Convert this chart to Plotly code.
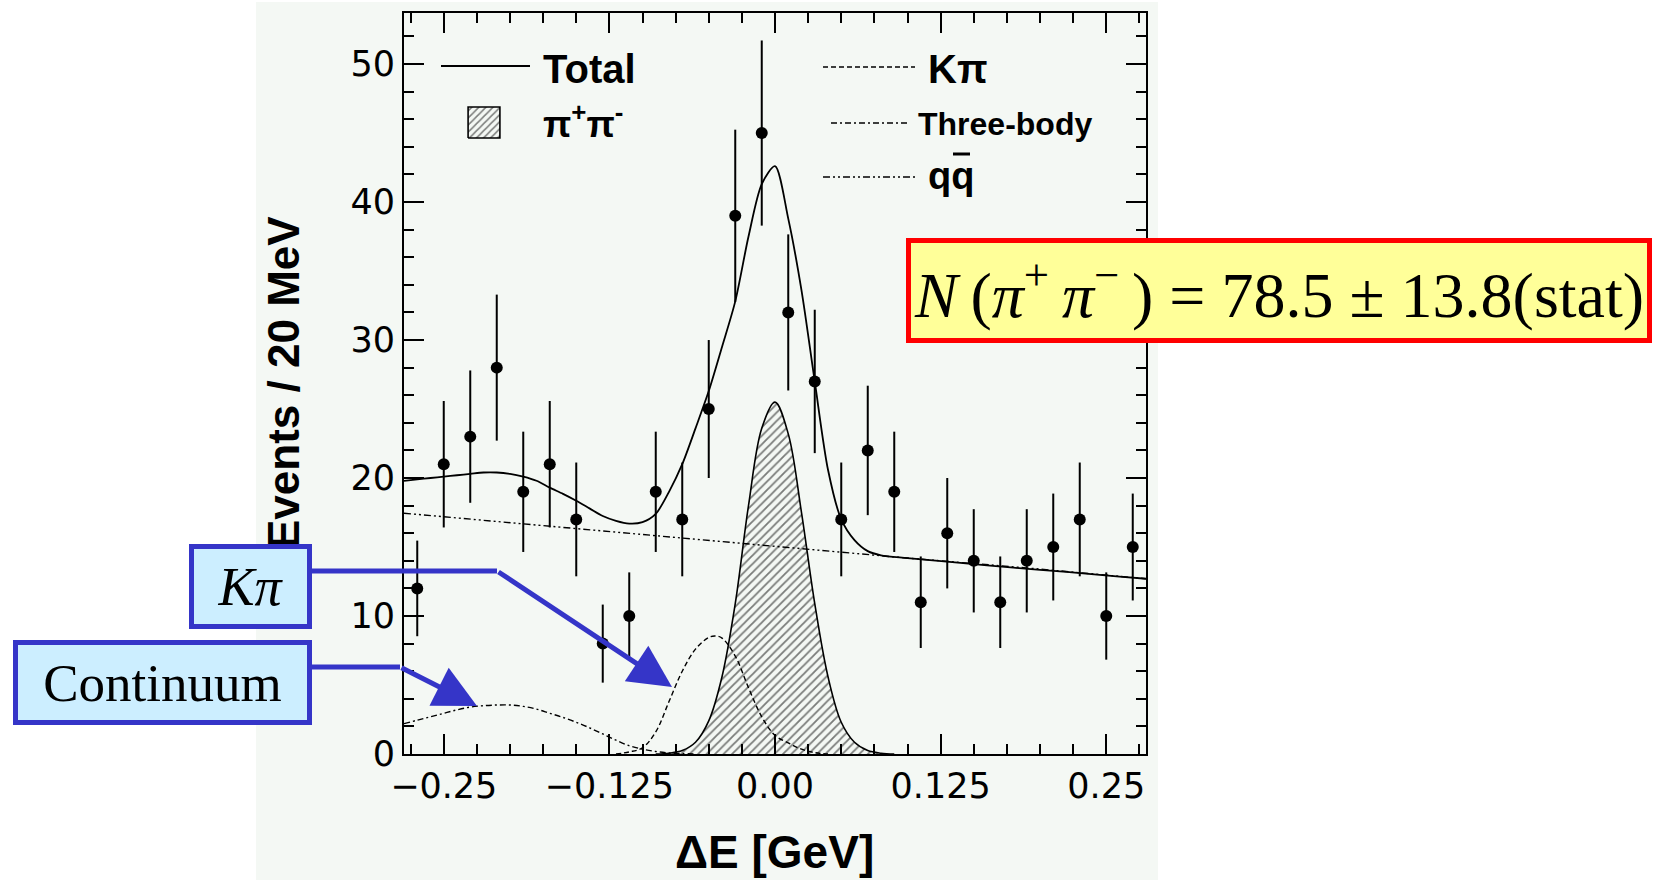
import math
import plotly.graph_objects as go

# ---- measured spectrum: events per 20 MeV bin of Delta E ----
bin_centers = [-0.27, -0.25, -0.23, -0.21, -0.19, -0.17, -0.15, -0.13, -0.11, -0.09,
               -0.07, -0.05, -0.03, -0.01, 0.01, 0.03, 0.05, 0.07, 0.09, 0.11,
               0.13, 0.15, 0.17, 0.19, 0.21, 0.23, 0.25, 0.27]
counts = [12, 21, 23, 28, 19, 21, 17, 8, 10, 19,
          17, 25, 39, 45, 32, 27, 17, 22, 19, 11,
          16, 14, 11, 14, 15, 17, 10, 15]
count_errors = [math.sqrt(n) for n in counts]

# ---- fit components (sampled along Delta E) ----
total_x = [-0.28, -0.27, -0.26, -0.25, -0.24, -0.23, -0.22, -0.21, -0.20, -0.19,
           -0.18, -0.17, -0.16, -0.15, -0.14, -0.13, -0.12, -0.11, -0.10, -0.09,
           -0.08, -0.07, -0.06, -0.05, -0.04, -0.03, -0.02, -0.01, 0.00, 0.01,
           0.02, 0.03, 0.04, 0.05, 0.06, 0.07, 0.08, 0.10, 0.14, 0.18, 0.22, 0.26, 0.28]
total_y = [19.8, 19.9, 20.0, 20.1, 20.2, 20.3, 20.4, 20.4, 20.3, 20.1,
           19.8, 19.3, 18.85, 18.35, 17.8, 17.25, 16.9, 16.7, 16.8, 17.4,
           19.0, 21.0, 23.6, 26.3, 29.5, 32.8, 37.5, 41.3, 42.6, 38.8,
           33.6, 27.0, 20.6, 17.0, 15.5, 14.7, 14.4, 14.2, 13.85, 13.5, 13.2, 12.85, 12.7]

pipi_x = [-0.09, -0.08, -0.07, -0.06, -0.05, -0.04, -0.03, -0.02, -0.01, 0.00,
          0.01, 0.02, 0.03, 0.04, 0.05, 0.06, 0.07, 0.08, 0.09]
pipi_y = [0.0, 0.06, 0.25, 0.85, 2.4, 5.6, 10.9, 18.0, 23.6, 25.5,
          23.2, 17.5, 10.9, 5.6, 2.3, 0.85, 0.25, 0.06, 0.0]

kpi_x = [-0.12, -0.11, -0.10, -0.09, -0.08, -0.07, -0.06, -0.05, -0.045, -0.04,
         -0.03, -0.02, -0.01, 0.00, 0.01, 0.02, 0.03, 0.04]
kpi_y = [0.0, 0.15, 0.45, 1.6, 3.8, 6.0, 7.6, 8.45, 8.55, 8.4,
         7.1, 4.8, 2.7, 1.35, 0.8, 0.35, 0.1, 0.0]

three_body_x = [-0.28, -0.27, -0.26, -0.25, -0.24, -0.23, -0.22, -0.21, -0.20, -0.19,
                -0.18, -0.17, -0.16, -0.15, -0.14, -0.13, -0.12, -0.11, -0.10, -0.09,
                -0.08, -0.07, -0.06]
three_body_y = [2.2, 2.45, 2.7, 2.95, 3.2, 3.4, 3.5, 3.55, 3.55, 3.45,
                3.25, 2.95, 2.65, 2.3, 1.9, 1.45, 1.0, 0.6, 0.35, 0.18,
                0.08, 0.03, 0.0]

qq_x = [-0.28, -0.20, -0.10, 0.00, 0.10, 0.20, 0.28]
qq_y = [17.45, 16.75, 15.9, 15.05, 14.2, 13.4, 12.7]

# ---- axis ticks ----
x_tickvals = [-0.25, -0.125, 0.0, 0.125, 0.25]
x_ticktext = ["\u22120.25", "\u22120.125", "0.00", "0.125", "0.25"]
y_tickvals = [0, 10, 20, 30, 40, 50]
y_ticktext = ["0", "10", "20", "30", "40", "50"]

# ---- text ----
x_title = "\u0394E [GeV]"
y_title = "Events / 20 MeV"
legend_total = "Total"
legend_pipi = "\u03c0<sup>+</sup>\u03c0<sup>-</sup>"
legend_kpi = "K\u03c0"
legend_three_body = "Three-body"
legend_qq = "qq"
yield_text = ("<i>N</i>\u2009(<i>\u03c0</i><sup>+</sup>\u2009<i>\u03c0</i><sup>\u2212</sup>\u2009)"
              " = 78.5 \u00b1 13.8(stat)")
kpi_box_text = "<i>K\u03c0</i>"
continuum_box_text = "Continuum"

W, H = 1655, 881
PANEL_BG = "#f4f8f4"
BLUE = "#3535c8"


def px(x):
    return x / W


def py(y):
    return 1 - y / H


fig = go.Figure()

# pi+ pi- signal, hatched
fig.add_trace(go.Scatter(
    x=pipi_x, y=pipi_y, mode="lines", line=dict(color="black", width=1.6, shape="spline"),
    fill="tozeroy", fillcolor=PANEL_BG,
    fillpattern=dict(shape="/", fgcolor="black", bgcolor=PANEL_BG, size=6, solidity=0.3),
    showlegend=False, hoverinfo="skip"))

# background components
fig.add_trace(go.Scatter(
    x=qq_x, y=qq_y, mode="lines",
    line=dict(color="black", width=1.4, dash="7px,3px,2px,3px,2px,3px"),
    showlegend=False, hoverinfo="skip"))
fig.add_trace(go.Scatter(
    x=three_body_x, y=three_body_y, mode="lines",
    line=dict(color="black", width=1.4, dash="6px,3px,2px,3px", shape="spline"),
    showlegend=False, hoverinfo="skip"))
fig.add_trace(go.Scatter(
    x=kpi_x, y=kpi_y, mode="lines",
    line=dict(color="black", width=1.4, dash="5px,3px", shape="spline"),
    showlegend=False, hoverinfo="skip"))

# total fit
fig.add_trace(go.Scatter(
    x=total_x, y=total_y, mode="lines",
    line=dict(color="black", width=1.8, shape="spline", smoothing=0.8),
    showlegend=False, hoverinfo="skip"))

# data points
fig.add_trace(go.Scatter(
    x=bin_centers, y=counts, mode="markers",
    marker=dict(color="black", size=12),
    error_y=dict(type="data", array=count_errors, thickness=2, width=0, color="black"),
    showlegend=False))

# hatched legend swatch on its own small unit axes
fig.add_trace(go.Scatter(
    x=[0, 1, 1, 0, 0], y=[0, 0, 1, 1, 0], mode="lines",
    line=dict(color="black", width=1.6), fill="toself", fillcolor=PANEL_BG,
    fillpattern=dict(shape="/", fgcolor="black", bgcolor=PANEL_BG, size=5, solidity=0.3),
    xaxis="x2", yaxis="y2", showlegend=False, hoverinfo="skip"))

axis_common = dict(
    showline=True, linewidth=2, linecolor="black", mirror="ticks",
    ticks="inside", ticklen=20, tickwidth=2, tickcolor="black",
    showgrid=False, zeroline=False, automargin=False,
    tickfont=dict(family="DejaVu Sans", size=35, color="black"),
)

fig.update_layout(
    width=W, height=H,
    margin=dict(l=0, r=0, t=0, b=0, autoexpand=False),
    paper_bgcolor="white", plot_bgcolor=PANEL_BG,
    xaxis=dict(domain=[px(404), px(1146)], range=[-0.28, 0.28],
               tickvals=x_tickvals, ticktext=x_ticktext,
               minor=dict(dtick=0.025, tick0=0, ticks="inside", ticklen=10,
                          tickwidth=2, tickcolor="black"),
               **axis_common),
    yaxis=dict(domain=[py(754), py(13)], range=[0, 53.7],
               tickvals=y_tickvals, ticktext=y_ticktext,
               minor=dict(dtick=2, tick0=0, ticks="inside", ticklen=10,
                          tickwidth=2, tickcolor="black"),
               **axis_common),
    xaxis2=dict(domain=[px(466.5), px(501.5)], range=[-0.05, 1.05], visible=False,
                anchor="y2", fixedrange=True, automargin=False),
    yaxis2=dict(domain=[py(139.5), py(105.5)], range=[-0.05, 1.05], visible=False,
                anchor="x2", fixedrange=True, automargin=False),
)

shapes = [
    # light panel behind the whole figure block
    dict(type="rect", xref="paper", yref="paper", x0=px(256), x1=px(1158),
         y0=py(880), y1=py(2), fillcolor=PANEL_BG, line=dict(width=0), layer="below"),
    # legend line keys
    dict(type="line", xref="paper", yref="paper", x0=px(441), x1=px(530), y0=py(66), y1=py(66),
         line=dict(color="black", width=2)),
    dict(type="line", xref="paper", yref="paper", x0=px(823), x1=px(915), y0=py(67), y1=py(67),
         line=dict(color="black", width=1.5, dash="5px,3px")),
    dict(type="line", xref="paper", yref="paper", x0=px(831), x1=px(907), y0=py(123), y1=py(123),
         line=dict(color="black", width=1.5, dash="6px,3px,2px,3px")),
    dict(type="line", xref="paper", yref="paper", x0=px(823), x1=px(915), y0=py(177), y1=py(177),
         line=dict(color="black", width=1.5, dash="7px,3px,2px,3px,2px,3px")),
    # bar over the second q
    dict(type="line", xref="paper", yref="paper", x0=px(953), x1=px(970), y0=py(154), y1=py(154),
         line=dict(color="black", width=3)),
    # horizontal legs of the callout arrows
    dict(type="line", xref="paper", yref="paper", x0=px(312), x1=px(497), y0=py(571), y1=py(571),
         line=dict(color=BLUE, width=5), layer="above"),
    dict(type="line", xref="paper", yref="paper", x0=px(312), x1=px(400), y0=py(667), y1=py(667),
         line=dict(color=BLUE, width=5), layer="above"),
]
fig.update_layout(shapes=shapes)

bold = dict(family="Liberation Sans", color="black")
annotations = [
    # axis titles
    dict(text="<b>%s</b>" % x_title, xref="paper", yref="paper", x=px(774), y=py(852),
         showarrow=False, font=dict(size=46, **bold), xanchor="center", yanchor="middle"),
    dict(text="<b>%s</b>" % y_title, xref="paper", yref="paper", x=px(284), y=py(383),
         showarrow=False, textangle=-90, font=dict(size=44, **bold),
         xanchor="center", yanchor="middle"),
    # legend labels
    dict(text="<b>%s</b>" % legend_total, xref="paper", yref="paper", x=px(541), y=py(69),
         showarrow=False, font=dict(size=40, **bold), xanchor="left", yanchor="middle"),
    dict(text="<b>%s</b>" % legend_pipi, xref="paper", yref="paper", x=px(541), y=py(121),
         showarrow=False, font=dict(size=37, **bold), xanchor="left", yanchor="middle"),
    dict(text="<b>%s</b>" % legend_kpi, xref="paper", yref="paper", x=px(926), y=py(69),
         showarrow=False, font=dict(size=40, **bold), xanchor="left", yanchor="middle"),
    dict(text="<b>%s</b>" % legend_three_body, xref="paper", yref="paper", x=px(916), y=py(124),
         showarrow=False, font=dict(size=32, **bold), xanchor="left", yanchor="middle"),
    dict(text="<b>%s</b>" % legend_qq, xref="paper", yref="paper", x=px(926), y=py(176),
         showarrow=False, font=dict(size=38, **bold), xanchor="left", yanchor="middle"),
    # fitted yield box
    dict(text=yield_text, xref="paper", yref="paper", x=px(1279), y=py(290.5),
         showarrow=False, font=dict(family="Liberation Serif", size=64, color="black"),
         bgcolor="#ffff99", bordercolor="#ff0000", borderwidth=5, borderpad=0,
         width=736, height=95, xanchor="center", yanchor="middle"),
    # callout boxes
    dict(text=kpi_box_text, xref="paper", yref="paper", x=px(250.5), y=py(586.5),
         showarrow=False, font=dict(family="Liberation Serif", size=54, color="black"),
         bgcolor="#cceeff", bordercolor=BLUE, borderwidth=5, borderpad=0,
         width=113, height=75, xanchor="center", yanchor="middle"),
    dict(text=continuum_box_text, xref="paper", yref="paper", x=px(162.5), y=py(682.5),
         showarrow=False, font=dict(family="Liberation Serif", size=53, color="black"),
         bgcolor="#cceeff", bordercolor=BLUE, borderwidth=5, borderpad=0,
         width=289, height=75, xanchor="center", yanchor="middle"),
    # callout arrows
    dict(text="", xref="paper", yref="paper", x=px(672), y=py(687),
         ax=497 - 672, ay=571 - 687, showarrow=True, arrowhead=2, arrowsize=1.7,
         arrowwidth=5, arrowcolor=BLUE, standoff=0),
    dict(text="", xref="paper", yref="paper", x=px(477), y=py(706),
         ax=400 - 477, ay=667 - 706, showarrow=True, arrowhead=2, arrowsize=1.7,
         arrowwidth=5, arrowcolor=BLUE, standoff=0),
]
fig.update_layout(annotations=annotations)

fig.write_html("out.html")
